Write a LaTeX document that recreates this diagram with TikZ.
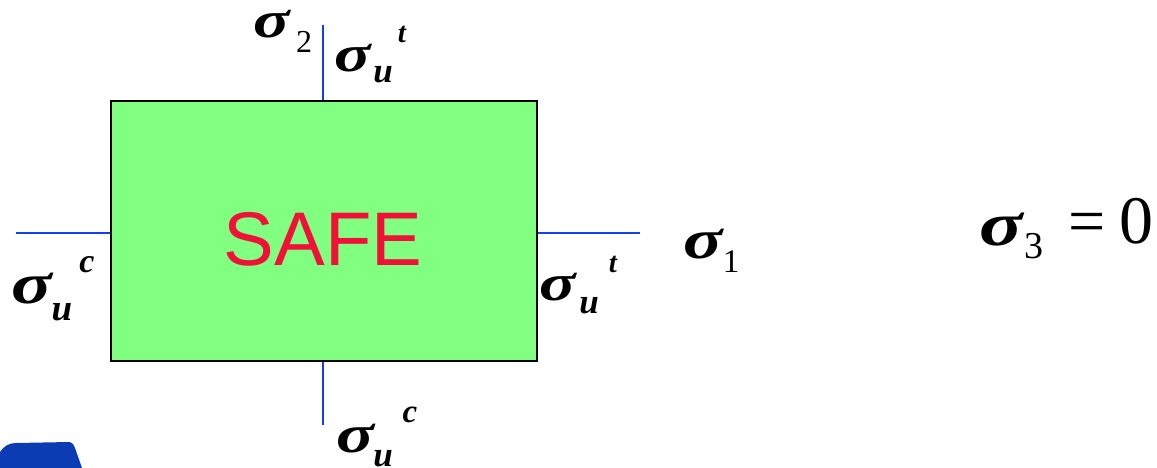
\documentclass[tikz,border=0pt]{standalone}
\usepackage{fontspec}
\setmainfont{Liberation Serif}
\newfontfamily\arialf{Liberation Sans}
\definecolor{safegreen}{RGB}{128,255,128}
\definecolor{lineblue}{RGB}{16,64,240}
\definecolor{safered}{RGB}{240,16,56}
\definecolor{logoblue}{RGB}{12,60,180}
\tikzset{
  glyph/.style={inner sep=0pt, outer sep=0pt, anchor=base},
  sig/.style={glyph, xscale=1.3, font=\fontsize{#1}{#1}\selectfont\bfseries\itshape},
  subu/.style={glyph, font=\fontsize{#1}{#1}\selectfont\bfseries\itshape},
  num/.style={glyph, font=\fontsize{#1}{#1}\selectfont},
  axisline/.style={draw=lineblue, line width=2pt},
}
\begin{document}
\begin{tikzpicture}[x=1pt,y=-1pt]
\useasboundingbox (0,0) rectangle (1157,468);
% logo fragment
\fill[logoblue] (0,452) .. controls (4,446) and (9,443) .. (16,443) -- (70,442) .. controls (73,443) and (74,445) .. (75,448) -- (82,468) -- (0,468) -- cycle;
% safe region
\node[draw=black, line width=2.5pt, fill=safegreen, minimum width=426pt, minimum height=260pt, inner sep=0pt] (box) at (324,231) {};
\node[glyph, font=\arialf\fontsize{76}{76}\selectfont, text=safered] (safe) at (323,265) {SAFE};
% axes
\coordinate (topend) at (323,25);
\coordinate (botend) at (323,425);
\coordinate (leftend) at (16,233);
\coordinate (rightend) at (640,233);
\draw[axisline] (box.north -| topend) -- (topend);
\draw[axisline] (box.south -| botend) -- (botend);
\draw[axisline] (box.west |- leftend) -- (leftend);
\draw[axisline] (box.east |- rightend) -- (rightend);
% sigma_2
\node[sig=52] (s2) at (272,38) {σ};
\node[num=32] (s2i) at (304,53) {2};
% top sigma_u^t
\node[sig=52] (tst) at (353,72) {σ};
\node[subu=35] (tsu) at (383,83) {u};
\node[subu=29] (tstt) at (402,43) {t};
% left sigma_u^c
\node[sig=58] (lsc) at (32,303) {σ};
\node[subu=37] (lsu) at (62,320) {u};
\node[subu=34] (lscc) at (87,272) {c};
% right sigma_u^t
\node[sig=52] (rst) at (558,300) {σ};
\node[subu=35] (rsu) at (589,313) {u};
\node[subu=29] (rstt) at (613,272) {t};
% sigma_1
\node[sig=56] (s1) at (703,258) {σ};
\node[num=33] (s1i) at (731,272) {1};
% bottom sigma_u^c
\node[sig=54] (bsc) at (355,452) {σ};
\node[subu=35] (bsu) at (383,466) {u};
\node[subu=33] (bscc) at (410,422) {c};
% sigma_3 = 0
\node[sig=62] (s3) at (1001,245) {σ};
\node[num=38] (s3i) at (1034,258) {3};
\node[num=66] (eq) at (1087,243) {=};
\node[num=68] (zero) at (1136,243) {0};
\end{tikzpicture}
\end{document}
